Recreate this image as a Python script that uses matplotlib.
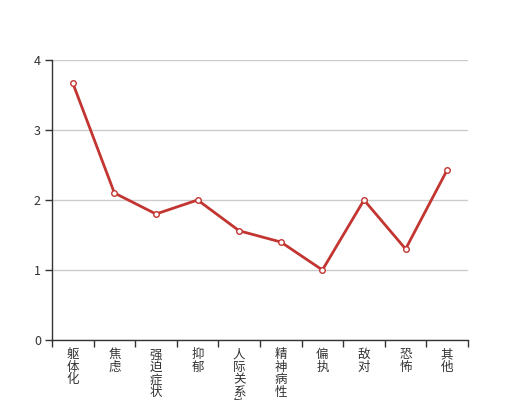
import matplotlib
matplotlib.use("Agg")
import matplotlib.pyplot as plt

plt.rcParams['font.family'] = ['Noto Sans CJK SC', 'DejaVu Sans']

categories = ["躯体化", "焦虑", "强迫症状", "抑郁", "人际关系敏感", "精神病性", "偏执", "敌对", "恐怖", "其他"]
values = [3.67, 2.1, 1.8, 2.0, 1.56, 1.4, 1.0, 2.0, 1.3, 2.43]
yticks = [0, 1, 2, 3, 4]

fig = plt.figure(figsize=(5.2, 4.0), dpi=100)
W, H = 520, 400
left, right, top, bottom = 52, 468, 60, 340
ax = fig.add_axes([left / W, 1 - bottom / H, (right - left) / W, (bottom - top) / H])

x = list(range(len(categories)))
ax.plot(x, values, color='#c23531', lw=2, marker='o', markersize=4,
        markerfacecolor='white', markeredgecolor='#c23531', markeredgewidth=1, zorder=3, clip_on=False)

ax.set_xlim(-0.5, len(categories) - 0.5)
ax.set_ylim(0, 4)
ax.set_yticks(yticks)
ax.set_yticklabels([str(t) for t in yticks])
ax.grid(axis='y', color='#cccccc', lw=1)
ax.set_axisbelow(True)

ax.set_xticks(x)
ax.set_xticklabels(['\n'.join(c) for c in categories], va='top', linespacing=0.95)
ax.set_xticks([i - 0.5 for i in range(len(categories) + 1)], minor=True)
ax.tick_params(axis='x', which='major', length=0, pad=6, labelsize=9, colors='#333333')
ax.tick_params(axis='x', which='minor', length=5, width=1, color='#333333', direction='out')
ax.tick_params(axis='y', length=5, width=1, color='#333333', labelsize=9, labelcolor='#333333', pad=3)

for s in ['top', 'right']:
    ax.spines[s].set_visible(False)
for s in ['left', 'bottom']:
    ax.spines[s].set_color('#333333')
    ax.spines[s].set_linewidth(1)

fig.savefig('out.png', dpi=100)
